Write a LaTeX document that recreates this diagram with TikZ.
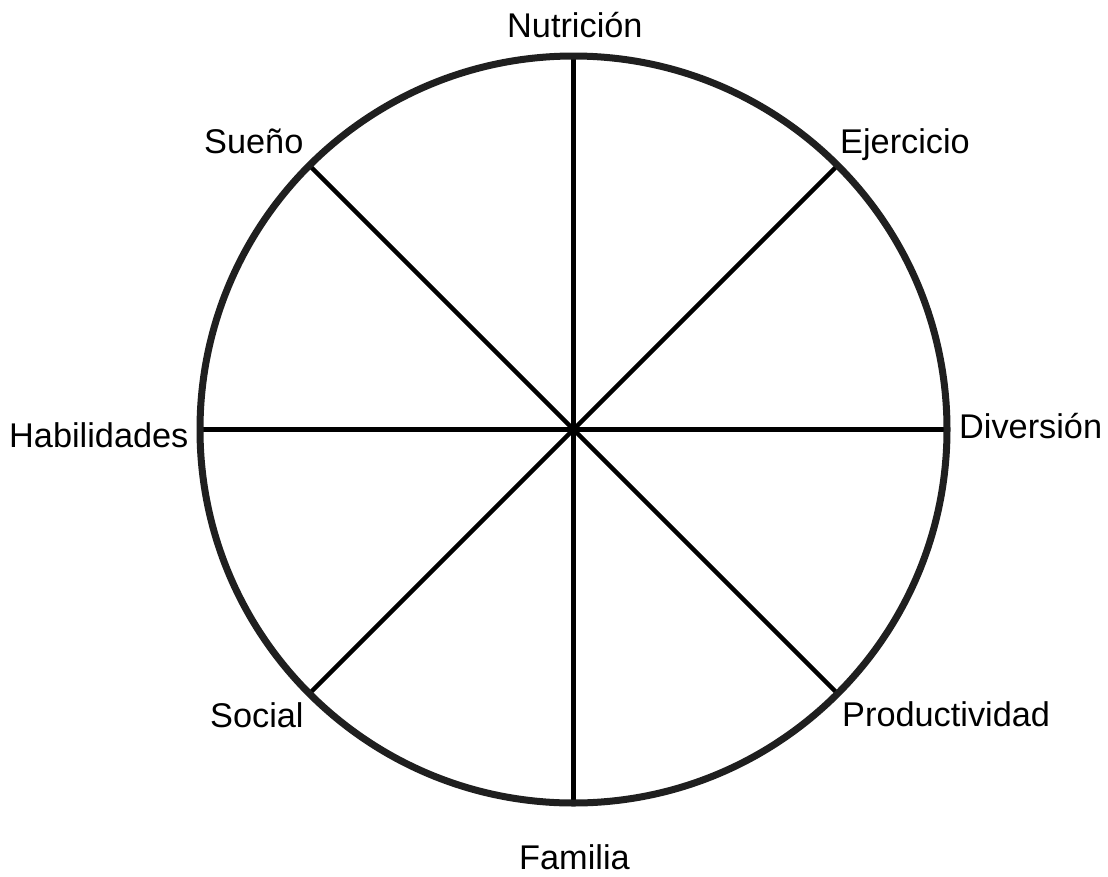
\documentclass[tikz,border=0pt]{standalone}
\usepackage{fontspec}
\setmainfont{Liberation Sans}
\usetikzlibrary{calc}
\begin{document}
\begin{tikzpicture}[x=1pt,y=-1pt,
  rim/.style={line width=7pt,draw=black!88},
  spoke/.style={line width=4.5pt,draw=black},
  lbl/.style={anchor=base west,inner sep=0pt,font=\fontsize{34.3}{40}\selectfont}]
\useasboundingbox (0,0) rectangle (1108,876);
\coordinate (c) at (573.5,429.5);
\def\R{373.5}
\foreach \a/\n in {90/n,45/ne,0/e,-45/se,-90/s,-135/sw,180/w,135/nw}
  \coordinate (p\n) at ($(c)+(\a:\R)$);
\draw[spoke] (pn) -- (ps);
\draw[spoke] (pw) -- (pe);
\draw[spoke] (pnw) -- (pse);
\draw[spoke] (pne) -- (psw);
\draw[rim] (c) circle[radius=\R];
\node[lbl] (nut) at (507,37) {Nutrición};
\node[lbl] (sue) at (204,153) {Sueño};
\node[lbl] (eje) at (840,153) {Ejercicio};
\node[lbl] (hab) at (9,447) {Habilidades};
\node[lbl] (div) at (959,438) {Diversión};
\node[lbl] (soc) at (210,727) {Social};
\node[lbl] (pro) at (842,726) {Productividad};
\node[lbl] (fam) at (519,869) {Familia};
\end{tikzpicture}
\end{document}
